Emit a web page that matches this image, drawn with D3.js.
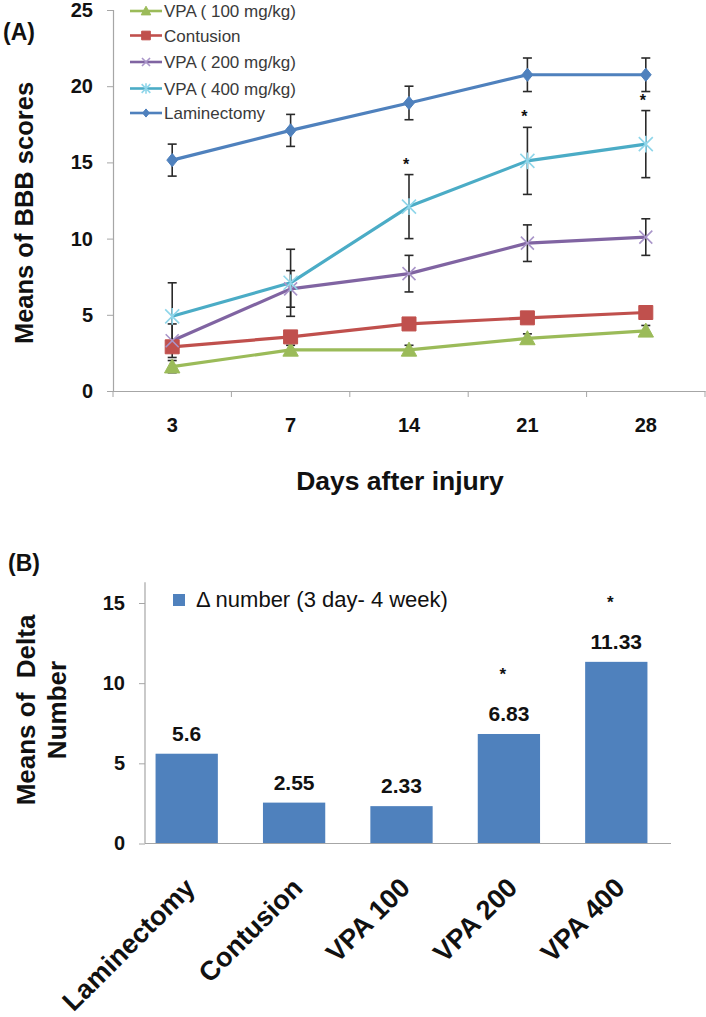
<!DOCTYPE html>
<html>
<head>
<meta charset="utf-8">
<script src="https://cdn.jsdelivr.net/npm/d3@7"></script>
<style>
  html, body { margin: 0; padding: 0; background: #fff; }
  svg { display: block; }
  text { font-family: "Liberation Sans", Arial, sans-serif; }
</style>
</head>
<body>
<svg id="chart" width="706" height="1017"></svg>
<script>
// ---------- DATA: panel A ----------
const days = ["3", "7", "14", "21", "28"];
const yTicksA = [0, 5, 10, 15, 20, 25];
const seriesNames = ["VPA ( 100 mg/kg)", "Contusion", "VPA ( 200 mg/kg)", "VPA ( 400 mg/kg)", "Laminectomy"];
const vpa100Means = [1.6, 2.7, 2.7, 3.45, 3.95];
const vpa100Err = [0.4, 0.3, 0.3, 0.3, 0.35];
const contusionMeans = [2.9, 3.55, 4.4, 4.8, 5.15];
const contusionErr = [0.2, 0.2, 0.2, 0.2, 0.2];
const vpa200Means = [3.3, 6.7, 7.7, 9.7, 10.1];
const vpa200Err = [1.1, 1.2, 1.2, 1.2, 1.2];
const vpa400Means = [4.9, 7.1, 12.1, 15.1, 16.2];
const vpa400Err = [2.2, 2.2, 2.1, 2.2, 2.2];
const laminectomyMeans = [15.15, 17.1, 18.9, 20.75, 20.75];
const laminectomyErr = [1.05, 1.05, 1.1, 1.1, 1.1];
const sigDaysA = ["14", "21", "28"];   // * above VPA 400 mg/kg

// ---------- DATA: panel B ----------
const groups = ["Laminectomy", "Contusion", "VPA 100", "VPA 200", "VPA 400"];
const deltaValues = [5.6, 2.55, 2.33, 6.83, 11.33];
const deltaLabels = ["5.6", "2.55", "2.33", "6.83", "11.33"];
const sigGroupsB = ["VPA 200", "VPA 400"];
const yTicksB = [0, 5, 10, 15];
const legendB = "\u0394 number (3 day- 4 week)";

// ---------- STYLE ----------
const colors = ["#9BBB59", "#C0504D", "#8064A2", "#4BACC6", "#4F81BD"];
const markerColors = ["#9BBB59", "#C0504D", "#a995c9", "#8fd6ea", "#4F81BD"];
const markers = ["triangle", "square", "x", "star", "diamond"];
const axisColor = "#a6a6a6";

const svg = d3.select("#chart");

function markerPath(type, s) {
  switch (type) {
    case "triangle": return `M0,${-s*0.55}L${s*0.55},${s*0.45}L${-s*0.55},${s*0.45}Z`;
    case "square": return `M${-s/2},${-s/2}h${s}v${s}h${-s}Z`;
    case "diamond": return `M0,${-s*0.55}L${s*0.45},0L0,${s*0.55}L${-s*0.45},0Z`;
    case "x": return `M${-s/2},${-s/2}L${s/2},${s/2}M${s/2},${-s/2}L${-s/2},${s/2}`;
    case "star": return `M${-s/2},${-s/2}L${s/2},${s/2}M${s/2},${-s/2}L${-s/2},${s/2}M0,${-s*0.6}V${s*0.6}`;
  }
}
function drawMarker(g, type, color, s) {
  const filled = type === "triangle" || type === "square" || type === "diamond";
  g.append("path")
    .attr("d", markerPath(type, s))
    .attr("fill", filled ? color : "none")
    .attr("stroke", color)
    .attr("stroke-width", filled ? 1 : 1.6);
}

// ================= PANEL A =================
const xA = d3.scaleBand().domain(days).range([113, 705]);
const yA = d3.scaleLinear().domain([0, 25]).range([391, 10]);

svg.append("text").attr("x", 3).attr("y", 40)
  .attr("font-size", 23).attr("font-weight", "bold").attr("fill", "#111").text("(A)");

// Y axis
const gyA = svg.append("g").attr("transform", "translate(113,0)")
  .call(d3.axisLeft(yA).tickValues(yTicksA).tickSize(6).tickPadding(14).tickFormat(d3.format("d")));
gyA.select(".domain").attr("stroke", axisColor).attr("stroke-width", 1.2);
gyA.selectAll(".tick line").attr("stroke", axisColor);
gyA.selectAll(".tick text").attr("font-size", 20).attr("font-weight", "bold").attr("fill", "#111")
  .attr("font-family", "Liberation Sans, Arial, sans-serif");

// X axis
const gxA = svg.append("g").attr("transform", "translate(0,391)")
  .call(d3.axisBottom(xA).tickSize(0).tickPadding(27).tickSizeOuter(0));
gxA.select(".domain").attr("stroke", axisColor).attr("stroke-width", 1.2);
gxA.selectAll(".tick text").attr("font-size", 20).attr("font-weight", "bold").attr("fill", "#111")
  .attr("font-family", "Liberation Sans, Arial, sans-serif");
// category boundary tick marks
gxA.selectAll(".bound").data(days.concat(["end"])).enter().append("line")
  .attr("x1", (d, i) => i < days.length ? xA(d) : xA.range()[1])
  .attr("x2", (d, i) => i < days.length ? xA(d) : xA.range()[1])
  .attr("y1", 0).attr("y2", 6).attr("stroke", axisColor);

svg.append("text").attr("transform", "translate(33,213) rotate(-90)")
  .attr("text-anchor", "middle").attr("font-size", 25.5).attr("font-weight", "bold").attr("fill", "#111")
  .text("Means of BBB scores");
svg.append("text").attr("x", 400).attr("y", 490)
  .attr("text-anchor", "middle").attr("font-size", 26.5).attr("font-weight", "bold").attr("fill", "#111")
  .text("Days after injury");

const seriesA = [
  { means: vpa100Means, err: vpa100Err },
  { means: contusionMeans, err: contusionErr },
  { means: vpa200Means, err: vpa200Err },
  { means: vpa400Means, err: vpa400Err },
  { means: laminectomyMeans, err: laminectomyErr }
];
const cx = d => xA(d) + xA.bandwidth() / 2;
const line = d3.line().x((d, i) => cx(days[i])).y(d => yA(d));

// lines
seriesA.forEach((s, k) => {
  svg.append("path").datum(s.means).attr("d", line)
    .attr("fill", "none").attr("stroke", colors[k]).attr("stroke-width", 3.2)
    .attr("stroke-linejoin", "round");
});
// error bars
seriesA.forEach((s, k) => {
  const g = svg.append("g").attr("stroke", "#2a2a2a").attr("stroke-width", 1.6);
  s.means.forEach((m, i) => {
    const x = cx(days[i]);
    const y1 = yA(m + s.err[i]), y2 = yA(m - s.err[i]);
    g.append("line").attr("x1", x).attr("x2", x).attr("y1", y1).attr("y2", y2);
    g.append("line").attr("x1", x - 4.5).attr("x2", x + 4.5).attr("y1", y1).attr("y2", y1);
    g.append("line").attr("x1", x - 4.5).attr("x2", x + 4.5).attr("y1", y2).attr("y2", y2);
  });
});
// markers
const markerSize = { triangle: 14, square: 14, diamond: 12, x: 13, star: 14 };
seriesA.forEach((s, k) => {
  s.means.forEach((m, i) => {
    const g = svg.append("g").attr("transform", `translate(${cx(days[i])},${yA(m)})`);
    drawMarker(g, markers[k], markerColors[k], markerSize[markers[k]]);
  });
});
// significance stars
sigDaysA.forEach(d => {
  const i = days.indexOf(d);
  svg.append("text").attr("x", cx(d) - 3).attr("y", yA(vpa400Means[i] + vpa400Err[i]) - 5)
    .attr("text-anchor", "middle").attr("font-size", 16).attr("font-weight", "bold").attr("fill", "#111")
    .text("*");
});

// legend A
const legYs = [11, 35.5, 62, 88.5, 113];
seriesNames.forEach((name, k) => {
  const y = legYs[k];
  svg.append("line").attr("x1", 130).attr("x2", 162).attr("y1", y).attr("y2", y)
    .attr("stroke", colors[k]).attr("stroke-width", 2.6);
  const g = svg.append("g").attr("transform", `translate(146,${y})`);
  drawMarker(g, markers[k], markerColors[k], markerSize[markers[k]] * 0.62);
  svg.append("text").attr("x", 164).attr("y", y + 6)
    .attr("font-size", 17).attr("fill", "#3a3a3a").text(name);
});

// ================= PANEL B =================
const xB = d3.scaleBand().domain(groups).range([133, 670]).paddingInner(0.42).paddingOuter(0.21);
const yB = d3.scaleLinear().domain([0, 15]).range([843.5, 603]);

svg.append("text").attr("x", 8).attr("y", 571)
  .attr("font-size", 23).attr("font-weight", "bold").attr("fill", "#111").text("(B)");

// y axis B
const gyB = svg.append("g").attr("transform", "translate(145,0)")
  .call(d3.axisLeft(yB).tickValues(yTicksB).tickSize(6).tickPadding(14).tickSizeOuter(0));
gyB.select(".domain").remove();
gyB.append("line").attr("x1", 0).attr("x2", 0).attr("y1", yB(0)).attr("y2", yB(16.3))
  .attr("stroke", axisColor).attr("stroke-width", 1.2);
gyB.selectAll(".tick line").attr("stroke", axisColor);
gyB.selectAll(".tick text").attr("font-size", 20).attr("font-weight", "bold").attr("fill", "#111")
  .attr("font-family", "Liberation Sans, Arial, sans-serif");

// bars
svg.selectAll(".bar").data(groups).enter().append("rect")
  .attr("x", d => xB(d)).attr("width", xB.bandwidth())
  .attr("y", (d, i) => yB(deltaValues[i])).attr("height", (d, i) => yB(0) - yB(deltaValues[i]))
  .attr("fill", "#4F81BD");

// x axis B
const gxB = svg.append("g").attr("transform", `translate(0,${yB(0)})`)
  .call(d3.axisBottom(xB).tickSize(0).tickPadding(0));
gxB.select(".domain").remove();
gxB.append("line").attr("x1", 145).attr("x2", 671).attr("y1", 0).attr("y2", 0)
  .attr("stroke", axisColor).attr("stroke-width", 1.2);
gxB.selectAll(".tick text")
  .attr("font-size", 27).attr("font-weight", "bold").attr("fill", "#111")
  .attr("font-family", "Liberation Sans, Arial, sans-serif")
  .attr("text-anchor", "end").attr("dy", null).attr("y", 0)
  .attr("transform", "translate(10,46) rotate(-45)");

// value labels
svg.selectAll(".vlab").data(groups).enter().append("text")
  .attr("x", d => xB(d) + xB.bandwidth() / 2)
  .attr("y", (d, i) => yB(deltaValues[i]) - 13)
  .attr("text-anchor", "middle").attr("font-size", 21).attr("font-weight", "bold").attr("fill", "#111")
  .text((d, i) => deltaLabels[i]);

// stars B
sigGroupsB.forEach(d => {
  const i = groups.indexOf(d);
  svg.append("text").attr("x", xB(d) + xB.bandwidth() / 2 - 6).attr("y", yB(deltaValues[i]) - 54)
    .attr("text-anchor", "middle").attr("font-size", 17).attr("font-weight", "bold").attr("fill", "#111")
    .text("*");
});

// y title B
const tB = svg.append("text").attr("transform", "translate(35,710) rotate(-90)")
  .attr("text-anchor", "middle").attr("font-size", 26).attr("font-weight", "bold").attr("fill", "#111");
tB.append("tspan").attr("x", 0).attr("dy", 0).text("Means of\u00a0\u00a0Delta");
tB.append("tspan").attr("x", 0).attr("dy", 31).text("Number");

// legend B
svg.append("rect").attr("x", 173).attr("y", 594).attr("width", 12).attr("height", 12).attr("fill", "#4F81BD");
svg.append("text").attr("x", 196).attr("y", 607)
  .attr("font-family", "Carlito, Lato, 'Open Sans', sans-serif")
  .attr("font-size", 22).attr("fill", "#111").text(legendB);
</script>
</body>
</html>
